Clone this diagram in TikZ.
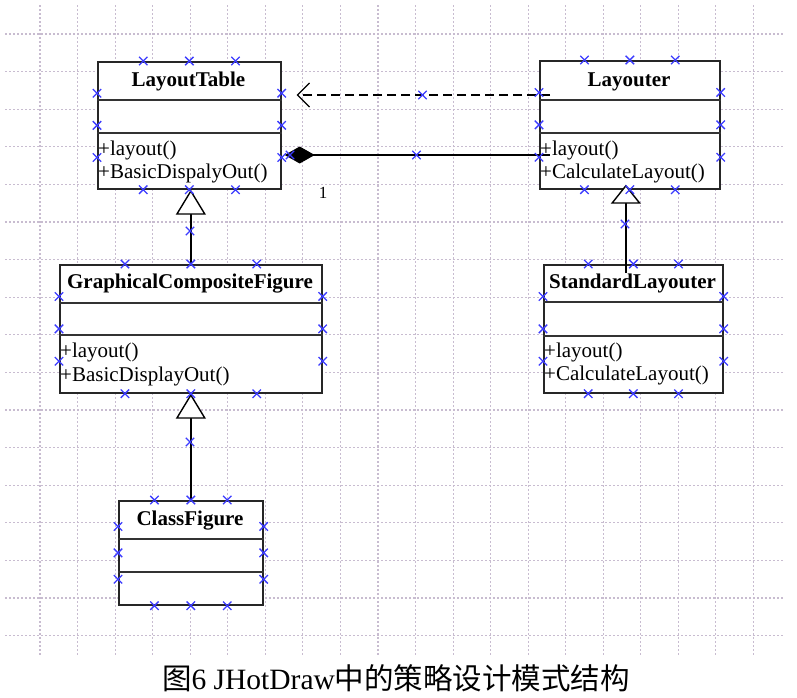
\documentclass[tikz,border=0pt]{standalone}
\usepackage{fontspec}
\setmainfont{Liberation Serif}
\newfontfamily\cjk{Noto Sans CJK SC}
\usetikzlibrary{arrows.meta,calc}
\definecolor{gridcol}{RGB}{200,188,208}
\definecolor{markcol}{RGB}{60,60,255}
\tikzset{
  gridln/.style={line width=1.1pt, draw=gridcol, dash pattern=on 2pt off 2pt},
  classbox/.style={draw=black!85, line width=1.7pt, fill=white, inner sep=0pt, anchor=north west},
  sepln/.style={draw=black!80, line width=1.7pt},
  ttl/.style={font=\bfseries\fontsize{21}{25}\selectfont, anchor=base, inner sep=0pt},
  mth/.style={font=\fontsize{21}{25}\selectfont, anchor=base west, inner sep=0pt},
  conn/.style={line width=1.4pt, draw=black},
  xmk/.style={draw=markcol, line width=1.3pt},
  xm/.pic={\draw[xmk] (-4.2,-4.2) -- (4.2,4.2) (-4.2,4.2) -- (4.2,-4.2);}
}
\begin{document}
\begin{tikzpicture}[x=1pt,y=-1pt]
\useasboundingbox (0,0) rectangle (797,697);
% grid
\foreach \k in {0,...,19} \draw[gridln] ({40+37.55*\k},5) -- ({40+37.55*\k},656);
\foreach \k in {0,...,16} \draw[gridln] (5,{34+37.6*\k}) -- (783,{34+37.6*\k});

% classes
\node[classbox, minimum width=183pt, minimum height=127pt] (lt) at (97,61) {};
\draw[sepln] (lt.west |- 0,100) -- (lt.east |- 0,100);
\draw[sepln] (lt.west |- 0,133) -- (lt.east |- 0,133);
\node[ttl] (ltT) at (188.5,86) {LayoutTable};
\node[mth] (ltM1) at (98,155) {+layout()};
\node[mth] (ltM2) at (98,178) {+BasicDispalyOut()};

\node[classbox, minimum width=180pt, minimum height=128pt] (lo) at (539,60) {};
\draw[sepln] (lo.west |- 0,100) -- (lo.east |- 0,100);
\draw[sepln] (lo.west |- 0,133) -- (lo.east |- 0,133);
\node[ttl] (loT) at (629,86) {Layouter};
\node[mth] (loM1) at (540,155) {+layout()};
\node[mth] (loM2) at (540,178) {+CalculateLayout()};

\node[classbox, minimum width=262pt, minimum height=128pt] (gcf) at (59,264) {};
\draw[sepln] (gcf.west |- 0,303) -- (gcf.east |- 0,303);
\draw[sepln] (gcf.west |- 0,335) -- (gcf.east |- 0,335);
\node[ttl] (gcfT) at (190,288) {GraphicalCompositeFigure};
\node[mth] (gcfM1) at (60,357) {+layout()};
\node[mth] (gcfM2) at (60,381) {+BasicDisplayOut()};

\node[classbox, minimum width=179pt, minimum height=128pt] (sl) at (543,264) {};
\draw[sepln] (sl.west |- 0,302) -- (sl.east |- 0,302);
\draw[sepln] (sl.west |- 0,336) -- (sl.east |- 0,336);
\node[ttl] (slT) at (632.5,288) {StandardLayouter};
\node[mth] (slM1) at (544,357) {+layout()};
\node[mth] (slM2) at (544,380) {+CalculateLayout()};

\node[classbox, minimum width=144pt, minimum height=104pt] (cf) at (118,500) {};
\draw[sepln] (cf.west |- 0,539) -- (cf.east |- 0,539);
\draw[sepln] (cf.west |- 0,572) -- (cf.east |- 0,572);
\node[ttl] (cfT) at (190,525) {ClassFigure};

% connectors
\draw[conn, dash pattern=on 9pt off 5pt, -{Straight Barb[length=12pt,width=24pt,line width=1.2pt]}]
  ($(lo.west |- 0,95)+(11,0)$) -- ($(lt.east |- 0,95)+(15,0)$);
\draw[conn, -{Diamond[length=30pt,width=17pt]}]
  ($(lo.west |- 0,155)+(11,0)$) -- ($(lt.east |- 0,155)+(3,0)$);
\node[font=\fontsize{17}{20}\selectfont, anchor=base, inner sep=0pt] (mult) at (323,198) {1};
\draw[conn, -{Triangle[open,length=25pt,width=30pt,fill=white,line width=1.4pt]}]
  (gcf.north) -- (gcf.north |- lt.south);
\draw[conn, -{Triangle[open,length=25pt,width=30pt,fill=white,line width=1.4pt]}]
  (cf.north) -- (cf.north |- gcf.south);
\draw[conn, -{Triangle[open,length=19pt,width=30pt,fill=white,line width=1.4pt]}]
  ($(sl.north)+(-7.5,9)$) -- ($(lo.south)+(-4,-5)$);

% connection point markers
\foreach \b in {lt,lo,gcf,sl,cf}{
  \foreach \t in {0.25,0.5,0.75}{
    \pic at ($(\b.north west)!\t!(\b.north east)$) {xm};
    \pic at ($(\b.south west)!\t!(\b.south east)$) {xm};
    \pic at ($(\b.north west)!\t!(\b.south west)$) {xm};
    \pic at ($(\b.north east)!\t!(\b.south east)$) {xm};
  }
}
\foreach \p in {(422.5,95),(416.5,155),(290,155),(190,231),(190,442),(625,224)}
  \pic at \p {xm};

% caption
\node[anchor=base, inner sep=0pt] (cap) at (396,689)
  {\fontsize{29.5}{34}\selectfont{\cjk 图}6 JHotDraw{\cjk 中的策略设计模式结构}};
\end{tikzpicture}
\end{document}
